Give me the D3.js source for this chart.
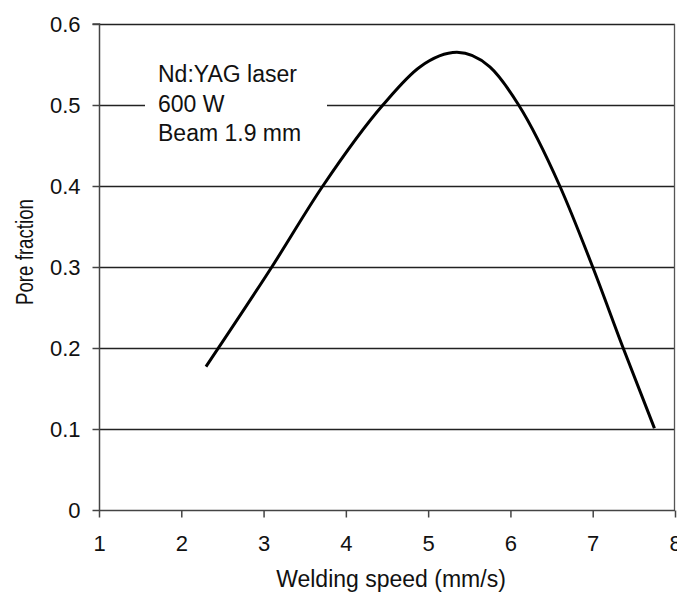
<!DOCTYPE html>
<html>
<head>
<meta charset="utf-8">
<script src="https://cdn.jsdelivr.net/npm/d3@7"></script>
<style>
  html, body { margin: 0; padding: 0; background: #fff; }
  svg { display: block; font-family: Arial, "Liberation Sans", sans-serif; }
</style>
</head>
<body>
<svg id="chart" width="677" height="594"></svg>
<script>
// Data
const speed = [2.30, 3.10, 3.72, 4.45, 4.90, 5.35, 5.75, 6.10, 6.60, 7.00, 7.37, 7.75];
const poreFraction = [0.177, 0.300, 0.400, 0.500, 0.547, 0.565, 0.547, 0.500, 0.400, 0.300, 0.200, 0.101];
const xTicks = [1, 2, 3, 4, 5, 6, 7, 8];
const yTicks = [0, 0.1, 0.2, 0.3, 0.4, 0.5, 0.6];
const yTickLabels = ["0", "0.1", "0.2", "0.3", "0.4", "0.5", "0.6"];
const annotation = ["Nd:YAG laser", "600 W", "Beam 1.9 mm"];
const xTitle = "Welding speed (mm/s)";
const yTitle = "Pore fraction";

const svg = d3.select("#chart");
const margin = {left: 99, right: 2, top: 24, bottom: 84};
const W = 677, H = 594;
const x = d3.scaleLinear().domain([1, 8]).range([margin.left, W - margin.right]);
const y = d3.scaleLinear().domain([0, 0.6]).range([H - margin.bottom, margin.top]);

// gridlines
svg.append("g").selectAll("line").data(yTicks.filter(d => d > 0)).join("line")
  .attr("x1", x(1)).attr("x2", x(8))
  .attr("y1", d => Math.round(y(d)) + 0.5).attr("y2", d => Math.round(y(d)) + 0.5)
  .attr("stroke", "#222").attr("stroke-width", 1.3);

// right border
svg.append("line").attr("x1", Math.round(x(8)) - 0.5).attr("x2", Math.round(x(8)) - 0.5)
  .attr("y1", y(0.6)).attr("y2", y(0)).attr("stroke", "#555").attr("stroke-width", 1.3);

// axes
const yAxis = d3.axisLeft(y).tickValues(yTicks).tickFormat((d, i) => yTickLabels[i]).tickSize(7).tickPadding(12);
const xAxis = d3.axisBottom(x).tickValues(xTicks).tickFormat(d3.format("d")).tickSize(7).tickPadding(18);

const gy = svg.append("g").attr("transform", `translate(${Math.round(x(1)) + 0.5},0)`).call(yAxis);
const gx = svg.append("g").attr("transform", `translate(0,${Math.round(y(0)) + 0.5})`).call(xAxis);
[gx, gy].forEach(g => {
  g.select(".domain").attr("stroke", "#444").attr("stroke-width", 1.5);
  g.selectAll(".tick line").attr("stroke", "#444").attr("stroke-width", 1.5);
  g.selectAll(".tick text").attr("fill", "#111").style("font-size", "22px")
    .style("font-family", "Arial, 'Liberation Sans', sans-serif");
});
gy.select(".domain").attr("d", `M-7,${y(0.6)}H0V${y(0)}`);
gx.select(".domain").attr("d", `M${x(1)},0H${x(8)}`);

// annotation box (covers gridline)
const annX = 145, annW = 182;
svg.append("rect").attr("x", annX).attr("y", 58).attr("width", annW).attr("height", 92).attr("fill", "#fff");
svg.append("g").selectAll("text").data(annotation).join("text")
  .attr("x", 158).attr("y", (d, i) => 82 + i * 29.5)
  .attr("fill", "#111").style("font-size", "23px").text(d => d);

// curve
const pts = speed.map((s, i) => [s, poreFraction[i]]);
svg.append("path").datum(pts)
  .attr("fill", "none").attr("stroke", "#000").attr("stroke-width", 3)
  .attr("d", d3.line().x(d => x(d[0])).y(d => y(d[1])).curve(d3.curveMonotoneX));

// titles
svg.append("text").attr("x", 391).attr("y", 587).attr("text-anchor", "middle")
  .attr("fill", "#111").style("font-size", "23px").text(xTitle);
svg.append("text").attr("transform", "translate(33,252) rotate(-90)").attr("text-anchor", "middle")
  .attr("fill", "#111").style("font-size", "23px")
  .attr("textLength", 106).attr("lengthAdjust", "spacingAndGlyphs").text(yTitle);
</script>
</body>
</html>
